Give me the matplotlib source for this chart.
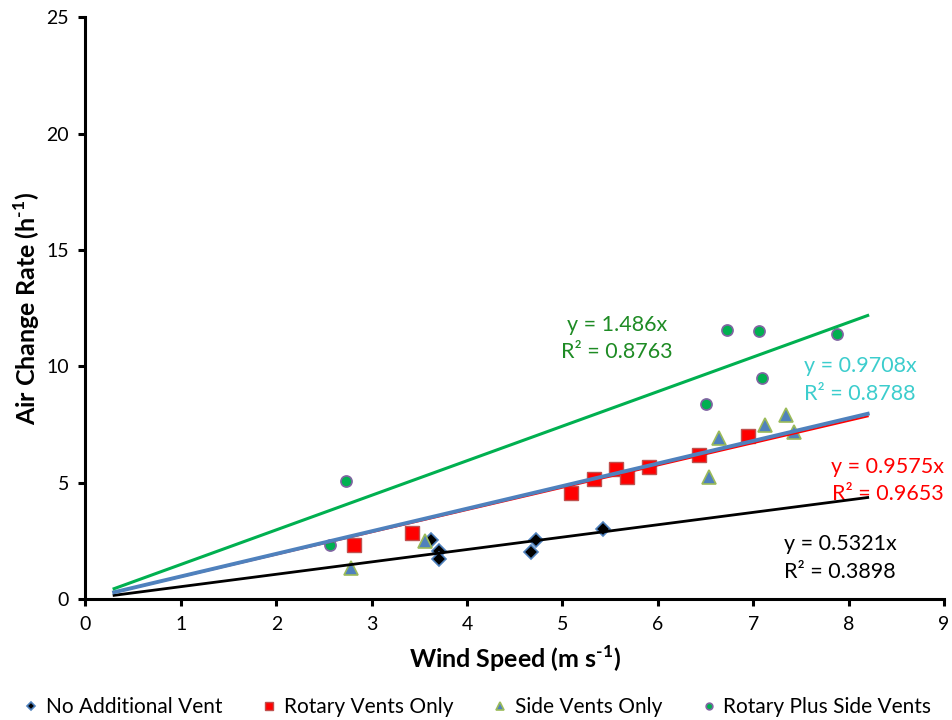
import matplotlib
matplotlib.use("Agg")
import matplotlib.pyplot as plt
import numpy as np

plt.rcParams['font.family'] = ['Lato', 'DejaVu Sans']
plt.rcParams['mathtext.fontset'] = 'custom'
plt.rcParams['mathtext.rm'] = 'Lato'
plt.rcParams['mathtext.bf'] = 'Lato:bold'

# Data
no_vent_x = [3.62, 3.71, 3.71, 4.67, 4.72, 5.42]
no_vent_y = [2.53, 2.08, 1.72, 2.03, 2.53, 3.01]

rotary_x = [2.81, 3.42, 5.09, 5.33, 5.56, 5.68, 5.91, 6.43, 6.95]
rotary_y = [2.33, 2.82, 4.57, 5.15, 5.58, 5.23, 5.68, 6.17, 7.00]

side_x = [2.78, 3.56, 6.54, 6.64, 7.12, 7.34, 7.43]
side_y = [1.34, 2.49, 5.26, 6.94, 7.50, 7.89, 7.16]

both_x = [2.56, 2.73, 6.51, 6.72, 7.06, 7.09, 7.88]
both_y = [2.33, 5.08, 8.36, 11.57, 11.50, 9.48, 11.38]

slopes = {'no': 0.5321, 'rotary': 0.9575, 'side': 0.9708, 'both': 1.486}
r2 = {'no': 0.3898, 'rotary': 0.9653, 'side': 0.8788, 'both': 0.8763}
trend_range = [0.3, 8.2]

labels = ['No Additional Vent', 'Rotary Vents Only', 'Side Vents Only', 'Rotary Plus Side Vents']

fig = plt.figure(figsize=(9.52, 7.2), dpi=100)
ax = fig.add_axes([0.0898, 0.168, 0.9018, 0.808])

ax.plot(no_vent_x, no_vent_y, 'D', ms=7, mfc='black', mec='#4F81BD', mew=1.2, ls='none', label=labels[0], zorder=3)
ax.plot(rotary_x, rotary_y, 's', ms=10, mfc='#FF0000', mec='#C0504D', mew=1.0, ls='none', label=labels[1], zorder=3)
ax.plot(side_x, side_y, '^', ms=10, mfc='#4F81BD', mec='#9BBB59', mew=1.2, ls='none', label=labels[2], zorder=3)
ax.plot(both_x, both_y, 'o', ms=8, mfc='#00B050', mec='#8064A2', mew=1.2, ls='none', label=labels[3], zorder=3)

xt = np.array(trend_range)
ax.plot(xt, slopes['no'] * xt, color='black', lw=2.0, zorder=4)
ax.plot(xt, slopes['rotary'] * xt, color='#FF0000', lw=1.5, zorder=4)
ax.plot(xt, slopes['side'] * xt, color='#4F81BD', lw=2.8, zorder=4)
ax.plot(xt, slopes['both'] * xt, color='#00B050', lw=2.2, zorder=4)

fs_ann = 15.5
ls_ann = 1.45
ax.text(5.57, 11.21, f"y = {slopes['both']}x\nR² = {r2['both']}", color='#1E8B24', fontsize=fs_ann,
        ha='center', va='center', linespacing=ls_ann)
ax.text(8.12, 9.41, f"y = {slopes['side']}x\nR² = {r2['side']}", color='#3CCDCD', fontsize=fs_ann,
        ha='center', va='center', linespacing=ls_ann)
ax.text(8.41, 5.11, f"y = {slopes['rotary']}x\nR² = {r2['rotary']}", color='#FF0000', fontsize=fs_ann,
        ha='center', va='center', linespacing=ls_ann)
ax.text(7.91, 1.76, f"y = {slopes['no']}x\nR² = {r2['no']}", color='black', fontsize=fs_ann,
        ha='center', va='center', linespacing=ls_ann)

ax.set_xlim(0, 9)
ax.set_ylim(0, 25)
ax.set_xticks(range(0, 10))
ax.set_yticks(range(0, 26, 5))
for s in ['top', 'right']:
    ax.spines[s].set_visible(False)
for s in ['left', 'bottom']:
    ax.spines[s].set_linewidth(2.2)
ax.tick_params(direction='out', length=5, width=2.2, labelsize=14, pad=7)

ax.set_xlabel('Wind Speed (m s$^{\\mathbf{\u2010}\\mathbf{1}}$)', fontsize=18, fontweight='bold', labelpad=8)
ax.set_ylabel('Air Change Rate (h$^{\\mathbf{\u2010}\\mathbf{1}}$)', fontsize=18, fontweight='bold', labelpad=3)

fig.legend(loc='center', bbox_to_anchor=(0.5, 0.018), ncol=4, frameon=False, fontsize=15,
           markerscale=0.6, handletextpad=0.2, columnspacing=1.75, handlelength=1.0)

fig.savefig('out.png', dpi=100)
